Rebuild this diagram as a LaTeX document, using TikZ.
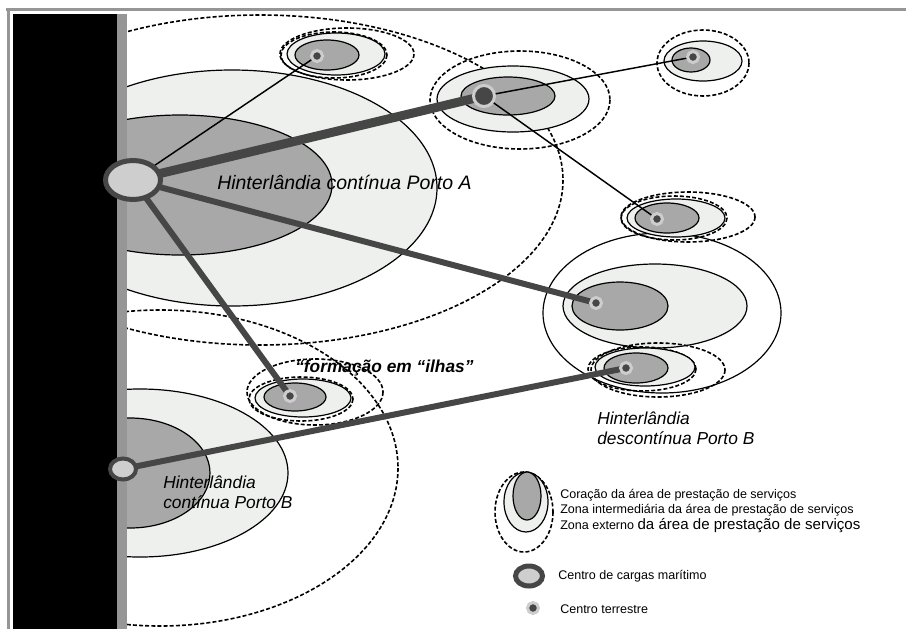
\documentclass[tikz,border=0pt]{standalone}
\usepackage{fontspec}
\setmainfont{Liberation Sans}
\usetikzlibrary{shapes.geometric}

\definecolor{coregray}{RGB}{168,168,168}
\definecolor{midgray}{RGB}{238,240,238}
\definecolor{linkgray}{RGB}{70,70,70}
\definecolor{portfill}{RGB}{206,206,206}
\definecolor{ringgray}{RGB}{205,205,205}
\definecolor{stripgray}{RGB}{150,150,150}

\pgfdeclarelayer{zones}
\pgfdeclarelayer{links}
\pgfsetlayers{zones,links,main}

\tikzset{every picture/.style={line width=0.75pt}}
\tikzset{
	core/.style={draw=black, fill=coregray, line width=0.9pt},
	midzone/.style={draw=black, fill=midgray, line width=0.9pt},
	bigzone/.style={draw=black, line width=0.9pt},
	outzone/.style={draw=black, line width=1.2pt, dash pattern=on 3pt off 1.6pt},
	frame/.style={draw=stripgray, line width=2.25pt},
	mainlink/.style={draw=linkgray, line width=6.75pt},
	link/.style={draw=linkgray, line width=4.5pt},
	thinlink/.style={draw=black, line width=1.1pt},
	seaport/.style={ellipse, draw=linkgray, fill=portfill, line width=3.75pt, inner sep=0pt},
	landdot/.style={circle, draw=ringgray, fill=linkgray, line width=2.25pt, minimum size=8.25pt, inner sep=0pt},
	hubdot/.style={circle, draw=ringgray, fill=linkgray, line width=2.25pt, minimum size=15.75pt, inner sep=0pt},
	hinttext/.style={font=\fontsize{13}{15}\selectfont\itshape, align=left, inner sep=0pt, anchor=west},
	legendtext/.style={font=\fontsize{9.4}{11}\selectfont, inner sep=0pt, anchor=west}
}

\begin{document}
\begin{tikzpicture}[x=0.75pt,y=0.75pt,yscale=-1,xscale=1]
	\useasboundingbox (0,0) rectangle (906,629);

	\begin{pgfonlayer}{zones}
	%Shape: Frame
	\draw[frame] (6,9.5) -- (906,9.5);
	\draw[frame] (8.5,8) -- (8.5,629);
	%Shape: Coast
	\fill[black] (13,14) rectangle (117,629);
	\fill[stripgray] (117,14) rectangle (127,629);

	\begin{scope}
	\clip (127,12) rectangle (906,629);
	%Shape: Ellipse, hinterland Porto A and Porto B
	\draw[outzone] (260,180) ellipse (303 and 165);
	\draw[outzone] (160,468) ellipse (238 and 158);
	\draw[midzone] (232,188) ellipse (205 and 118);
	\draw[core] (180,185) ellipse (152 and 70);
	\draw[midzone] (140,473) ellipse (148 and 84);
	\draw[core] (130,473) ellipse (80 and 55);

	%Shape: Ellipse, cluster top
	\draw[outzone] (347,54) ellipse (67 and 26);
	\draw[outzone] (334,55) ellipse (53 and 23);
	\draw[midzone] (336,54) ellipse (49 and 21);
	\draw[core] (327,55) ellipse (32 and 15);
	%Shape: Ellipse, cluster hub
	\draw[outzone] (520,100) ellipse (90 and 49);
	\draw[midzone] (513,99) ellipse (76 and 33);
	\draw[core] (508,96) ellipse (47 and 19);
	%Shape: Ellipse, cluster top right
	\draw[outzone] (703,63) ellipse (46 and 33);
	\draw[midzone] (703,61) ellipse (39 and 20);
	\draw[core] (691,60) ellipse (19 and 12);
	%Shape: Ellipse, large cluster right
	\draw[bigzone] (662,313) ellipse (119 and 80);
	\draw[midzone] (655,306) ellipse (92 and 42);
	\draw[core] (620,306) ellipse (48 and 24);
	%Shape: Ellipse, cluster right
	\draw[outzone] (688,217) ellipse (67 and 25);
	\draw[outzone] (674,218) ellipse (53 and 22);
	\draw[midzone] (676,218) ellipse (49 and 19);
	\draw[core] (667,218) ellipse (32 and 15);
	%Shape: Ellipse, cluster lower right
	\draw[outzone] (658,370) ellipse (67 and 27);
	\draw[outzone] (642,369) ellipse (54 and 22);
	\draw[midzone] (645,367) ellipse (50 and 19);
	\draw[core] (636,368) ellipse (32 and 15);
	%Shape: Ellipse, island cluster
	\draw[outzone] (315,392) ellipse (68 and 33);
	\draw[outzone] (301,399) ellipse (52 and 22);
	\draw[midzone] (303,398) ellipse (48 and 19);
	\draw[core] (295,397) ellipse (31 and 14);
	\end{scope}

	%Shape: Ellipse, legend
	\draw[outzone] (524,512) ellipse (29 and 40);
	\draw[midzone] (526,502) ellipse (22 and 30);
	\draw[core] (527,496) ellipse (14 and 24);
	\end{pgfonlayer}

	% Port and centre nodes
	\node[seaport, minimum width=41.25pt, minimum height=29.25pt] (portA) at (133,180) {};
	\node[seaport, minimum width=19.5pt, minimum height=15.75pt, line width=3pt] (portB) at (123,469) {};
	\node[hubdot] (hub) at (484,96) {};
	\node[landdot] (land1) at (317,56) {};
	\node[landdot] (land3) at (693,57) {};
	\node[landdot] (land4) at (657,219) {};
	\node[landdot] (land5) at (596,303) {};
	\node[landdot] (land6) at (626,368) {};
	\node[landdot] (land7) at (290,396) {};

	%Straight Lines
	\begin{pgfonlayer}{links}
	\draw[mainlink] (portA.center) -- (hub.center);
	\draw[link] (portA.center) -- (land5.center);
	\draw[link] (portA.center) -- (land7.center);
	\draw[link] (portB.center) -- (land6.center);
	\draw[thinlink] (portA.center) -- (land1.center);
	\draw[thinlink] (hub.center) -- (land3.center);
	\draw[thinlink] (hub.center) -- (land4.center);
	\end{pgfonlayer}

	% Text Node
	\node[hinttext, font=\fontsize{14.6}{16}\selectfont\itshape] (txtA) at (217,182) {Hinterlândia contínua Porto A};
	% Text Node
	\node[hinttext] (txtBdisc) at (597,428) {Hinterlândia\\descontínua Porto B};
	% Text Node
	\node[hinttext] (txtBcont) at (163,492) {Hinterlândia\\contínua Porto B};
	% Text Node
	\node[hinttext, font=\fontsize{13}{15}\selectfont\bfseries\itshape] (txtIlhas) at (295,368) {“formação em “ilhas”};

	% Legend
	\node[legendtext] (lgcore) at (560,495) {Coração da área de prestação de serviços};
	\node[legendtext] (lgmid) at (560,510) {Zona intermediária da área de prestação de serviços};
	\node[legendtext] (lgout) at (560,526) {Zona externo {\fontsize{11.3}{13}\selectfont da área de prestação de serviços}};
	\node[seaport, minimum width=20.25pt, minimum height=15pt] (lgport) at (529,576) {};
	\node[legendtext] (lgporttxt) at (558,576) {Centro de cargas marítimo};
	\node[landdot] (lgdot) at (533,608) {};
	\node[legendtext] (lgdottxt) at (560,609) {Centro terrestre};

\end{tikzpicture}
\end{document}
